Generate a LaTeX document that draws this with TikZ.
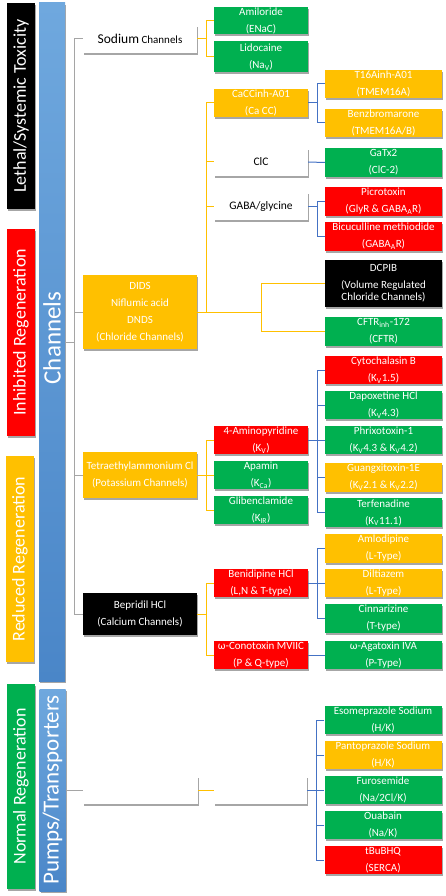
\documentclass[tikz,border=0pt]{standalone}
\usepackage{fontspec}
\setmainfont{Carlito}
\usetikzlibrary{shadows}
\definecolor{cgreen}{HTML}{00B050}
\definecolor{cyellow}{HTML}{FFC000}
\definecolor{cred}{HTML}{FF0000}
\definecolor{cblue}{HTML}{4472C4}
\definecolor{cgray}{HTML}{A5A5A5}
\definecolor{barlight}{HTML}{6FA8DE}
\definecolor{bardark}{HTML}{4A86C8}
\tikzset{
  shd/.style={drop shadow={shadow xshift=1.3pt, shadow yshift=-1.6pt, opacity=0.35, fill=black}},
  box/.style={shd, rectangle, inner sep=0pt, align=center, font=\fontsize{11}{17}\selectfont, text=white, minimum height=28pt},
  mid/.style={box, minimum width=94pt},
  rgt/.style={box, minimum width=117pt},
  fst/.style={box, minimum width=114pt},
  gbox/.style={fill=cgreen},
  ybox/.style={fill=cyellow},
  rbox/.style={fill=cred},
  kbox/.style={fill=black},
  wbox/.style={fill=white, text=black},
  lbar/.style={rectangle, inner sep=0pt, minimum width=28pt, shd},
  bbar/.style={rectangle, inner sep=0pt, minimum width=26pt, shd, top color=barlight, bottom color=bardark},
  btext/.style={rotate=90, text=white, inner sep=0pt},
  gline/.style={draw=cgray, line width=1pt},
  yline/.style={draw=cyellow, line width=1pt},
  bline/.style={draw=cblue, line width=1pt},
}
\begin{document}
\begin{tikzpicture}[x=1pt, y=1pt]
\useasboundingbox (0,0) rectangle (446,-896);
% left category bars
\node[lbar, fill=black, minimum height=206pt] (lethal) at (21,-106) {};
\node[btext, font=\fontsize{18}{18}\selectfont] at (lethal) {Lethal/Systemic Toxicity};
\node[lbar, fill=cred, minimum height=207pt] (inhib) at (21,-332.5) {};
\node[btext, font=\fontsize{18}{18}\selectfont] at (inhib) {Inhibited Regeneration};
\node[lbar, fill=cyellow, minimum height=206pt] (reduc) at (20,-559) {};
\node[btext, font=\fontsize{18}{18}\selectfont] at (reduc) {Reduced Regeneration};
\node[lbar, fill=cgreen, minimum height=205pt] (normal) at (21,-786.5) {};
\node[btext, font=\fontsize{18}{18}\selectfont] at (normal) {Normal Regeneration};
% blue bars
\node[bbar, minimum height=678pt] (channels) at (52,-342) {};
\node[btext, font=\fontsize{25}{25}\selectfont] at ([yshift=4pt]channels.center) {Channels};
\node[bbar, minimum height=202pt] (pumps) at (52.5,-790) {};
\node[btext, font=\fontsize{23}{23}\selectfont] at (pumps) {Pumps/Transporters};

% first level
\node[fst, wbox] (sod) at (140,-39) {{\fontsize{13.5}{14}\selectfont Sodium} Channels};
\node[fst, ybox, minimum height=74pt] (dids) at (140,-312) {DIDS\\Niflumic acid\\DNDS\\(Chloride Channels)};
\node[fst, ybox, minimum height=46pt] (tea) at (140,-475) {Tetraethylammonium Cl\\(Potassium Channels)};
\node[fst, kbox, minimum height=42pt] (bep) at (140,-614) {Bepridil HCl\\(Calcium Channels)};
\node[fst, wbox, minimum width=115pt] (pb1) at (140.5,-790) {};

% second level
\node[mid, gbox, minimum height=27pt] (amil) at (261,-20.5) {Amiloride\\(ENaC)};
\node[mid, gbox, minimum height=31pt] (lido) at (261,-57) {Lidocaine\\(Na\textsubscript{V})};
\node[mid, ybox] (cacc) at (261,-103) {CaCCinh-A01\\(Ca CC)};
\node[mid, wbox, font=\fontsize{11.5}{14}\selectfont] (clc) at (261,-162) {ClC};
\node[mid, wbox, font=\fontsize{11.5}{14}\selectfont] (gaba) at (261,-206) {GABA/glycine};
\node[mid, rbox] (ap4) at (261,-440) {4-Aminopyridine\\(K\textsubscript{V})};
\node[mid, gbox] (apamin) at (261,-475) {Apamin\\(K\textsubscript{Ca})};
\node[mid, gbox] (glib) at (261,-510) {Glibenclamide\\(K\textsubscript{IR})};
\node[mid, rbox] (beni) at (261,-583) {Benidipine HCl\\(L,N \& T-type)};
\node[mid, rbox] (cono) at (261,-655) {ω-Conotoxin MVIIC\\(P \& Q-type)};
\node[mid, wbox, minimum width=93pt] (pb2) at (260.5,-790) {};

% third level
\node[rgt, ybox] (t16) at (383.5,-84) {T16Ainh-A01\\(TMEM16A)};
\node[rgt, ybox] (benz) at (383.5,-123) {Benzbromarone\\(TMEM16A/B)};
\node[rgt, gbox, minimum height=29pt] (gatx) at (383.5,-162.5) {GaTx2\\(ClC-2)};
\node[rgt, rbox, minimum height=29pt] (picro) at (383.5,-201.5) {Picrotoxin\\(GlyR \& GABA\textsubscript{A}R)};
\node[rgt, rbox, minimum height=29pt] (bicu) at (383.5,-236.5) {Bicuculline methiodide\\(GABA\textsubscript{A}R)};
\node[rgt, kbox, minimum height=47pt] (dcpib) at (383.5,-283.5) {DCPIB\\(Volume Regulated\\[-5pt]Chloride Channels)};
\node[rgt, gbox, minimum height=29pt] (cftr) at (383.5,-331.5) {CFTR\textsubscript{inh}-172\\(CFTR)};
\node[rgt, rbox] (cyto) at (383.5,-370) {Cytochalasin B\\(K\textsubscript{V}1.5)};
\node[rgt, gbox] (dapox) at (383.5,-405) {Dapoxetine HCl\\(K\textsubscript{V}4.3)};
\node[rgt, gbox] (phrix) at (383.5,-440) {Phrixotoxin-1\\(K\textsubscript{V}4.3 \& K\textsubscript{V}4.2)};
\node[rgt, ybox, minimum height=29pt] (guang) at (383.5,-477.5) {Guangxitoxin-1E\\(K\textsubscript{V}2.1 \& K\textsubscript{V}2.2)};
\node[rgt, gbox, minimum height=29pt] (terf) at (383.5,-512.5) {Terfenadine\\(K\textsubscript{V}11.1)};
\node[rgt, ybox, minimum height=29pt] (amlo) at (383.5,-548.5) {Amlodipine\\(L-Type)};
\node[rgt, ybox] (dilt) at (383.5,-583) {Diltiazem\\(L-Type)};
\node[rgt, gbox, minimum height=29pt] (cinn) at (383.5,-618.5) {Cinnarizine\\(T-type)};
\node[rgt, gbox] (aga) at (383.5,-655) {ω-Agatoxin IVA\\(P-Type)};
\node[rgt, gbox] (eso) at (383,-720) {Esomeprazole Sodium\\(H/K)};
\node[rgt, ybox] (panto) at (383,-755) {Pantoprazole Sodium\\(H/K)};
\node[rgt, gbox] (furo) at (383,-790) {Furosemide\\(Na/2Cl/K)};
\node[rgt, gbox] (ouab) at (383,-825) {Ouabain\\(Na/K)};
\node[rgt, rbox] (tbu) at (383,-860) {tBuBHQ\\(SERCA)};

% connector columns
\coordinate (tk) at (74,0);
\coordinate (yk) at (206,0);
\coordinate (dk) at (261,0);
\coordinate (bk) at (317,0);
\coordinate (pk) at (316,0);

% gray trunk
\draw[gline] (channels.east) -- (channels.east -| tk);
\draw[gline] (sod.west) -- (sod.west -| tk) -- (bep.west -| tk) -- (bep.west);
\draw[gline] (dids.west) -- (dids.west -| tk);
\draw[gline] (tea.west) -- (tea.west -| tk);
\draw[gline] (pumps.east) -- (pb1.west);

% yellow connectors
\draw[yline] (sod.east) -- (sod.east -| yk);
\draw[yline] (amil.west) -- (amil.west -| yk) -- (lido.west -| yk) -- (lido.west);
\draw[yline] (cacc.west) -- (cacc.west -| yk) -- (dids.east -| yk);
\draw[yline] (clc.west) -- (clc.west -| yk);
\draw[yline] (gaba.west) -- (gaba.west -| yk);
\draw[yline] (dids.east) -- (dids.east -| dk);
\draw[yline] (dcpib.west) -- (dcpib.west -| dk) -- (cftr.west -| dk) -- (cftr.west);
\draw[yline] (ap4.west) -- (ap4.west -| yk) -- (glib.west -| yk) -- (glib.west);
\draw[yline] (tea.east) -- (apamin.west);
\draw[yline] (beni.west) -- (beni.west -| yk) -- (cono.west -| yk) -- (cono.west);
\draw[yline] (bep.east) -- (bep.east -| yk);
\draw[yline] (pb1.east) -- (pb2.west);

% blue connectors
\draw[bline] (t16.west) -- (t16.west -| bk) -- (benz.west -| bk) -- (benz.west);
\draw[bline] (cacc.east) -- (cacc.east -| bk);
\draw[bline] (clc.east) -- (gatx.west);
\draw[bline] (picro.west) -- (picro.west -| bk) -- (bicu.west -| bk) -- (bicu.west);
\draw[bline] (gaba.east) -- (gaba.east -| bk);
\draw[bline] (cyto.west) -- (cyto.west -| bk) -- (terf.west -| bk) -- (terf.west);
\draw[bline] (dapox.west) -- (dapox.west -| bk);
\draw[bline] (guang.west) -- (guang.west -| bk);
\draw[bline] (ap4.east) -- (phrix.west);
\draw[bline] (amlo.west) -- (amlo.west -| bk) -- (cinn.west -| bk) -- (cinn.west);
\draw[bline] (beni.east) -- (dilt.west);
\draw[bline] (cono.east) -- (aga.west);
\draw[bline] (eso.west) -- (eso.west -| pk) -- (tbu.west -| pk) -- (tbu.west);
\draw[bline] (panto.west) -- (panto.west -| pk);
\draw[bline] (ouab.west) -- (ouab.west -| pk);
\draw[bline] (pb2.east) -- (furo.west);
\end{tikzpicture}
\end{document}
